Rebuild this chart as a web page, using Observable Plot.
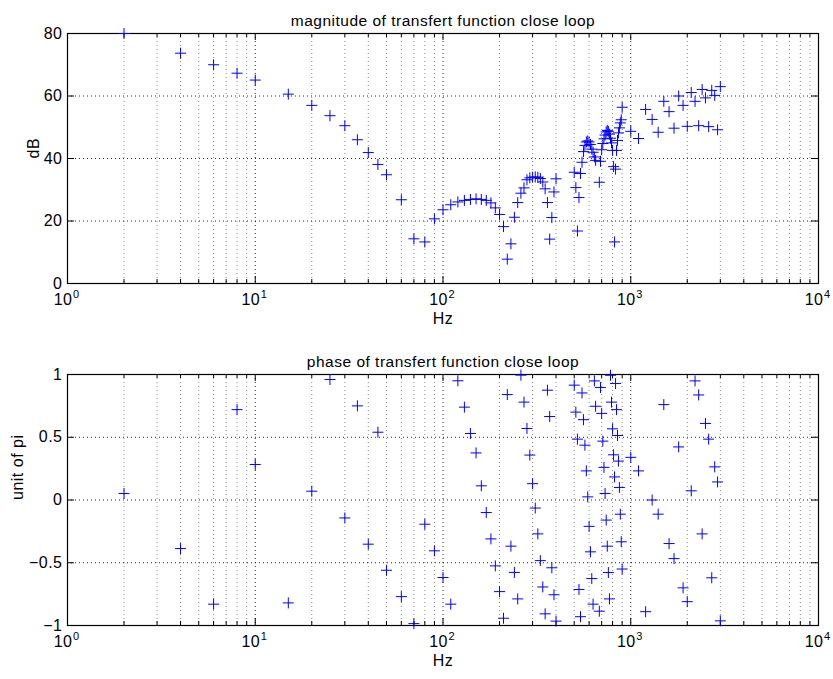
<!DOCTYPE html>
<html>
<head>
<meta charset="utf-8">
<script src="https://cdn.jsdelivr.net/npm/d3@7"></script>
<script src="https://cdn.jsdelivr.net/npm/@observablehq/plot@0.6"></script>
<style>
  body { margin: 0; background: #fff; }
  #chart svg { display: block; }
</style>
</head>
<body>
<div id="chart"></div>
<script>
// ---- data ----
const freqHz = [
  2, 4, 6, 8, 10, 15, 20, 25, 30, 35, 40, 45, 50,
  60, 70, 80, 90, 100, 110, 120, 130, 140, 150, 160, 170, 180, 190, 200,
  210, 220, 230, 240, 250, 260, 270, 280, 290, 300,
  310, 320, 330, 340, 350, 360, 370, 380, 390, 400,
  500, 510, 520, 530, 540, 550, 560, 570, 580, 590, 600, 610, 620, 630, 640, 650,
  680, 690, 700, 710, 720, 730, 740, 750, 760, 770, 780, 790, 800, 810, 820,
  830, 840, 850, 860, 870, 880, 890, 900,
  1000, 1100, 1200, 1300, 1400, 1500, 1600, 1700, 1800, 1900, 2000,
  2100, 2200, 2300, 2400, 2500, 2600, 2700, 2800, 2900, 3000
];
const magnitudeDb = [
  80, 73.7, 70.0, 67.3, 65.1, 60.6, 57.0, 53.7, 50.5, 46.0, 41.9, 38.1, 34.8,
  26.8, 14.3, 13.3, 20.7, 23.6, 25.2, 26.1, 26.6, 26.9, 27.1, 26.9, 26.6, 25.8, 24.2, 22.1,
  18.2, 7.8, 12.7, 21.2, 25.9, 28.9, 30.6, 33.2, 33.8, 34.0,
  34.1, 34.0, 33.6, 32.5, 30.3, 25.9, 14.2, 21.1, 29.3, 33.5,
  35.6, 30.7, 16.8, 27.5, 35.2, 38.8, 42.2, 44.2, 45.3, 45.6, 45.3, 44.5, 43.0, 42.0, 40.5, 39.4,
  32.4, 39.1, 42.8, 44.8, 46.3, 47.5, 48.5, 49.0, 48.7, 47.8, 46.5, 45.0, 42.6, 37.4, 13.3,
  36.6, 42.6, 45.8, 48.2, 49.8, 51.4, 52.4, 56.4,
  48.7, 46.4, 55.7, 52.5, 48.4, 58.3, 55.0, 49.7, 60.0, 57.0, 50.3,
  61.1, 58.3, 50.5, 62.1, 59.4, 50.2, 61.8, 60.2, 49.2, 63.0
];
const phaseUnitPi = [
  0.052, -0.387, -0.83, 0.72, 0.283, -0.82, 0.07, 0.96, -0.143, 0.75, -0.352, 0.54, -0.56,
  -0.77, -0.985, -0.193, -0.405, -0.618, -0.83, 0.95, 0.74, 0.53, 0.375, 0.113, -0.10, -0.31, -0.525, -0.73,
  -0.942, 0.84, -0.368, -0.577, -0.788, 0.995, 0.78, 0.57, 0.358, 0.13,
  -0.064, -0.27, -0.483, -0.693, -0.907, 0.875, 0.665, -0.54, -0.755, -0.965,
  0.915, 0.70, 0.485, -0.713, -0.93, 0.853, 0.64, 0.437, 0.232, 0.025, -0.21, -0.413, -0.626, -0.83, 0.949, 0.747,
  -0.886, 0.896, 0.69, 0.469, 0.26, 0.052, -0.16, -0.368, -0.578, -0.788, 0.994, 0.78, 0.567, 0.36, 0.184,
  0.928, 0.72, 0.514, 0.31, 0.10, -0.113, -0.333, -0.55,
  0.34, 0.232, -0.89, 0.0, -0.113, 0.76, -0.347, -0.467, 0.423, -0.70, -0.81,
  0.073, 0.949, 0.837, -0.27, 0.61, 0.485, -0.62, 0.264, 0.144, -0.963
];

const xTickDecades = [1, 10, 100, 1000, 10000];
const xTickExponents = ["0", "1", "2", "3", "4"];
const magYTicks = [0, 20, 40, 60, 80];
const magYTickLabels = ["0", "20", "40", "60", "80"];
const phaseYTicks = [-1, -0.5, 0, 0.5, 1];
const phaseYTickLabels = ["\u22121", "\u22120.5", "0", "0.5", "1"];
const magTitle = "magnitude of transfert function close loop";
const phaseTitle = "phase of transfert function close loop";
const xLabel = "Hz";
const magYLabel = "dB";
const phaseYLabel = "unit of pi";

// ---- helpers ----
const minorTicks = [];
for (const d of xTickDecades.slice(0, -1)) for (let k = 2; k <= 9; k++) minorTicks.push(d * k);

const plusSymbol = {
  draw(context, size) {
    const r = Math.sqrt(size / Math.PI);
    context.moveTo(-r, 0); context.lineTo(r, 0);
    context.moveTo(0, -r); context.lineTo(0, r);
  }
};

function panel({values, yDomain, yTicks, yTickLabels, title, yLabel, yLabelDx, height, marginTop, marginBottom}) {
  const W = 833, ML = 67, MR = 15;
  const plotH = height - marginTop - marginBottom;
  const plotW = W - ML - MR;
  const data = freqHz.map((f, i) => ({f, v: values[i]}));
  const xt = xTickDecades.map((d, i) => ({d, e: xTickExponents[i]}));
  const yt = yTicks.map((v, i) => ({v, t: yTickLabels[i]}));
  return Plot.plot({
    width: W, height, marginLeft: ML, marginRight: MR, marginTop, marginBottom,
    x: {type: "log", domain: [1, 10000], axis: null},
    y: {domain: yDomain, axis: null},
    style: {fontFamily: "'Liberation Sans', Arial, Helvetica, sans-serif", fontSize: "16px", background: "white", overflow: "visible", letterSpacing: "0.5px"},
    marks: [
      // grid
      Plot.ruleX(minorTicks, {stroke: "#000", strokeOpacity: 0.45, strokeDasharray: "1,3"}),
      Plot.ruleX(xTickDecades.slice(1, -1), {stroke: "#000", strokeOpacity: 0.85, strokeDasharray: "1,3"}),
      Plot.ruleY(yTicks.slice(1, -1), {stroke: "#000", strokeOpacity: 0.85, strokeDasharray: "1,3"}),
      // inward ticks on all four sides
      Plot.ruleX(xTickDecades, {stroke: "#000", insetTop: plotH - 7}),
      Plot.ruleX(xTickDecades, {stroke: "#000", insetBottom: plotH - 7}),
      Plot.ruleX(minorTicks, {stroke: "#000", insetTop: plotH - 4}),
      Plot.ruleX(minorTicks, {stroke: "#000", insetBottom: plotH - 4}),
      Plot.ruleY(yTicks, {stroke: "#000", insetRight: plotW - 7}),
      Plot.ruleY(yTicks, {stroke: "#000", insetLeft: plotW - 7}),
      Plot.frame({stroke: "#000", strokeWidth: 1.2}),
      // data
      Plot.dot(data, {x: "f", y: "v", symbol: plusSymbol, r: 5.5, stroke: "#0000ff", strokeWidth: 1, fill: "none"}),
      // x tick labels 10^n
      Plot.text(xt, {x: "d", frameAnchor: "bottom", dy: 21, dx: 5, textAnchor: "end", text: () => "10"}),
      Plot.text(xt, {x: "d", frameAnchor: "bottom", dy: 14, dx: 5.5, textAnchor: "start", text: "e", fontSize: 11}),
      // y tick labels
      Plot.text(yt, {y: "v", frameAnchor: "left", dx: -5, textAnchor: "end", text: "t"}),
      // axis labels and title
      Plot.text([xLabel], {frameAnchor: "bottom", dy: 40, text: d => d}),
      Plot.text([yLabel], {frameAnchor: "left", dx: yLabelDx, rotate: -90, text: d => d}),
      Plot.text([title], {frameAnchor: "top", dy: -19, text: d => d, fontSize: 15.5})
    ]
  });
}

const chart = document.getElementById("chart");
chart.append(panel({
  values: magnitudeDb, yDomain: [0, 80], yTicks: magYTicks, yTickLabels: magYTickLabels,
  title: magTitle, yLabel: magYLabel, yLabelDx: -34,
  height: 339, marginTop: 33, marginBottom: 56
}));
chart.append(panel({
  values: phaseUnitPi, yDomain: [-1, 1], yTicks: phaseYTicks, yTickLabels: phaseYTickLabels,
  title: phaseTitle, yLabel: phaseYLabel, yLabelDx: -50,
  height: 340, marginTop: 35, marginBottom: 54
}));
</script>
</body>
</html>
